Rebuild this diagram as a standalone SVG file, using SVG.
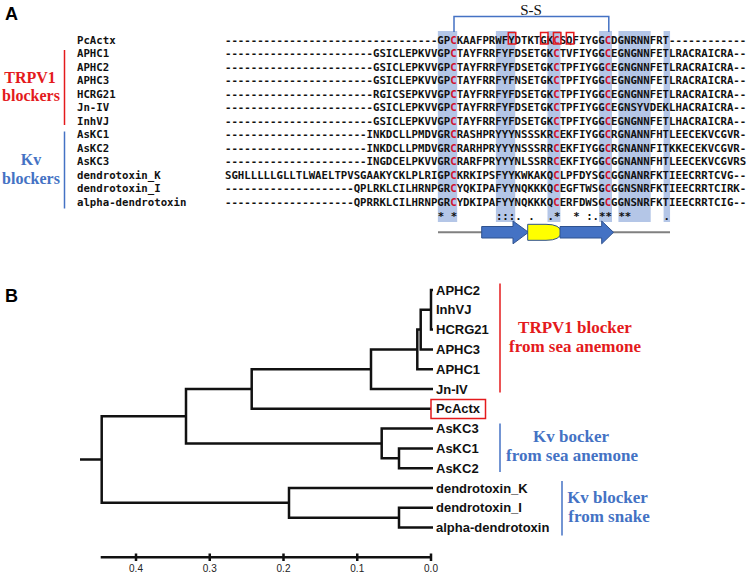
<svg xmlns="http://www.w3.org/2000/svg" width="749" height="573" viewBox="0 0 749 573">
<style>
.seq{font-family:"DejaVu Sans Mono","Liberation Mono",monospace;font-weight:bold;font-size:10.7px;fill:#111}
.rc{fill:#D0102E}
.shade{fill:#B4C6E7}
.panel{font-family:"Liberation Sans",Arial,sans-serif;font-weight:bold;font-size:18px;fill:#000}
.grp{font-family:"Liberation Serif","Times New Roman",serif;font-weight:bold;font-size:16px;text-anchor:middle}
.grp2{font-family:"Liberation Serif","Times New Roman",serif;font-weight:bold;font-size:17px;text-anchor:middle}
.red{fill:#E41A1C}
.blue{fill:#4472C4}
.leaf{font-family:"Liberation Sans",Arial,sans-serif;font-weight:bold;font-size:13px;fill:#111}
.tree{fill:none;stroke:#111;stroke-width:2.5;stroke-linejoin:miter;stroke-linecap:butt}
.tick{font-family:"Liberation Sans",Arial,sans-serif;font-size:10px;fill:#222;text-anchor:middle}
.box{fill:none;stroke:#E41A1C;stroke-width:1.5}
.arrow{fill:#4472C4;stroke:#2F528F;stroke-width:1}
</style>
<rect width="749" height="573" fill="#fff"/>

<!-- Panel A -->
<text class="panel" x="5" y="20">A</text>

<g id="shading">
<rect class="shade" x="437.85" y="31" width="19.35" height="191"/>
<rect class="shade" x="495.9" y="31" width="19.35" height="191"/>
<rect class="shade" x="547.5" y="31" width="12.9" height="191"/>
<rect class="shade" x="599.1" y="31" width="12.9" height="191"/>
<rect class="shade" x="618.45" y="31" width="32.25" height="191"/>
<rect class="shade" x="663.6" y="31" width="6.45" height="191"/>
</g>

<g id="ss-bridge">
<path d="M454,32 V16.5 H608.8 V32" fill="none" stroke="#4472C4" stroke-width="1.5"/>
<text x="531" y="14.5" font-family="'Liberation Serif','Times New Roman',serif" font-size="15" text-anchor="middle" fill="#111">S-S</text>
</g>

<g id="group-labels-A">
<line x1="64.5" y1="50" x2="64.5" y2="125" stroke="#E41A1C" stroke-width="1.5"/>
<text class="grp red" x="30" y="82.5">TRPV1</text>
<text class="grp red" x="31" y="101">blockers</text>
<line x1="64.5" y1="131.5" x2="64.5" y2="208.5" stroke="#4472C4" stroke-width="1.5"/>
<text class="grp blue" x="31" y="164.5">Kv</text>
<text class="grp blue" x="31" y="184">blockers</text>
</g>

<g id="alignment">
<g id="row-PcActx"><text class="seq" x="77" y="43.8">PcActx</text><text class="seq" x="225" y="43.8">---------------------------------GP<tspan class="rc">C</tspan>KAAFPRWFYDTKTGK<tspan class="rc">C</tspan>SQFIYGG<tspan class="rc">C</tspan>DGNRNNFRT------------</text></g>
<g id="row-APHC1"><text class="seq" x="77" y="57.3">APHC1</text><text class="seq" x="225" y="57.3">-----------------------GSICLEPKVVGP<tspan class="rc">C</tspan>TAYFRRFYFDSETGK<tspan class="rc">C</tspan>TVFIYGG<tspan class="rc">C</tspan>EGNGNNFETLRACRAICRA--</text></g>
<g id="row-APHC2"><text class="seq" x="77" y="70.8">APHC2</text><text class="seq" x="225" y="70.8">-----------------------GSICLEPKVVGP<tspan class="rc">C</tspan>TAYFRRFYFDSETGK<tspan class="rc">C</tspan>TPFIYGG<tspan class="rc">C</tspan>EGNGNNFETLRACRAICRA--</text></g>
<g id="row-APHC3"><text class="seq" x="77" y="84.3">APHC3</text><text class="seq" x="225" y="84.3">-----------------------GSICLEPKVVGP<tspan class="rc">C</tspan>TAYFRRFYFNSETGK<tspan class="rc">C</tspan>TPFIYGG<tspan class="rc">C</tspan>EGNGNNFETLRACRAICRA--</text></g>
<g id="row-HCRG21"><text class="seq" x="77" y="97.8">HCRG21</text><text class="seq" x="225" y="97.8">-----------------------RGICSEPKVVGP<tspan class="rc">C</tspan>TAYFRRFYFDSETGK<tspan class="rc">C</tspan>TPFIYGG<tspan class="rc">C</tspan>EGNGNNFETLRACRAICRA--</text></g>
<g id="row-JnIV"><text class="seq" x="77" y="111.3">Jn-IV</text><text class="seq" x="225" y="111.3">-----------------------GSICLEPKVVGP<tspan class="rc">C</tspan>TAYFRRFYFDSETGK<tspan class="rc">C</tspan>TPFIYGG<tspan class="rc">C</tspan>EGNSYVDEKLHACRAICRA--</text></g>
<g id="row-InhVJ"><text class="seq" x="77" y="124.8">InhVJ</text><text class="seq" x="225" y="124.8">-----------------------GSICLEPKVVGP<tspan class="rc">C</tspan>TAYFRRFYFDSETGK<tspan class="rc">C</tspan>TPFIYGG<tspan class="rc">C</tspan>EGNGNNFETLHACRAICRA--</text></g>
<g id="row-AsKC1"><text class="seq" x="77" y="138.3">AsKC1</text><text class="seq" x="225" y="138.3">----------------------INKDCLLPMDVGR<tspan class="rc">C</tspan>RASHPRYYYNSSSKR<tspan class="rc">C</tspan>EKFIYGG<tspan class="rc">C</tspan>RGNANNFHTLEECEKVCGVR-</text></g>
<g id="row-AsKC2"><text class="seq" x="77" y="151.8">AsKC2</text><text class="seq" x="225" y="151.8">----------------------INKDCLLPMDVGR<tspan class="rc">C</tspan>RARHPRYYYNSSSRR<tspan class="rc">C</tspan>EKFIYGG<tspan class="rc">C</tspan>RGNANNFITKKECEKVCGVR-</text></g>
<g id="row-AsKC3"><text class="seq" x="77" y="165.3">AsKC3</text><text class="seq" x="225" y="165.3">----------------------INGDCELPKVVGR<tspan class="rc">C</tspan>RARFPRYYYNLSSRR<tspan class="rc">C</tspan>EKFIYGG<tspan class="rc">C</tspan>GGNANNFHTLEECEKVCGVRS</text></g>
<g id="row-dendrotoxin_K"><text class="seq" x="77" y="178.8">dendrotoxin_K</text><text class="seq" x="225" y="178.8">SGHLLLLLGLLTLWAELTPVSGAAKYCKLPLRIGP<tspan class="rc">C</tspan>KRKIPSFYYKWKAKQ<tspan class="rc">C</tspan>LPFDYSG<tspan class="rc">C</tspan>GGNANRFKTIEECRRTCVG--</text></g>
<g id="row-dendrotoxin_I"><text class="seq" x="77" y="192.3">dendrotoxin_I</text><text class="seq" x="225" y="192.3">--------------------QPLRKLCILHRNPGR<tspan class="rc">C</tspan>YQKIPAFYYNQKKKQ<tspan class="rc">C</tspan>EGFTWSG<tspan class="rc">C</tspan>GGNSNRFKTIEECRRTCIRK-</text></g>
<g id="row-alpha-dendrotoxin"><text class="seq" x="77" y="205.8">alpha-dendrotoxin</text><text class="seq" x="225" y="205.8">--------------------QPRRKLCILHRNPGR<tspan class="rc">C</tspan>YDKIPAFYYNQKKKQ<tspan class="rc">C</tspan>ERFDWSG<tspan class="rc">C</tspan>GGNSNRFKTIEECRRTCIG--</text></g>
<g id="row-consensus"><text class="seq" y="219.5"><tspan x="437.85">*</tspan><tspan x="450.75">*</tspan><tspan x="495.9">:::.</tspan><tspan x="528.15">.</tspan><tspan x="547.5">.*</tspan><tspan x="573.3">*</tspan><tspan x="586.2">:.**</tspan><tspan x="618.45">**</tspan><tspan x="663.6">.</tspan></text></g>
</g>

<g id="key-residues">
<rect class="box" x="508.3" y="32.5" width="7.45" height="11.5"/>
<rect class="box" x="540.55" y="32.5" width="7.45" height="11.5"/>
<rect class="box" x="553.45" y="32.5" width="7.45" height="11.5"/>
<rect class="box" x="566.35" y="32.5" width="7.45" height="11.5"/>
</g>

<g id="secondary-structure">
<line x1="438" y1="232.3" x2="670" y2="232.3" stroke="#808080" stroke-width="2"/>
<polygon class="arrow" points="481.7,226.5 513,226.5 513,221 528.5,232.3 513,243.8 513,238 481.7,238"/>
<path d="M527.7,224.3 H546 Q560.5,224.3 561.2,232.3 Q560.5,240.3 546,240.3 H527.7 Z" fill="#FFFF00" stroke="#2F528F" stroke-width="1"/>
<polygon class="arrow" points="560,226.5 601.7,226.5 601.7,221 613.5,232.3 601.7,243.8 601.7,238 560,238"/>
</g>

<!-- Panel B -->
<text class="panel" x="5" y="302">B</text>

<g id="connectors" class="tree">
<path d="M433,290 H431 V329.6 H433"/>
<path d="M431,309.8 H420.7 V349.4 H433"/>
<path d="M420.7,329.6 H417.3 V369.2 H433"/>
<path d="M417.3,349.4 H371 V389 H433"/>
<path d="M371,369.2 H251.7 V408.8 H431"/>
<path d="M433,448.4 H399 V468.2 H433"/>
<path d="M433,428.6 H381.7 V458.3 H399"/>
<path d="M251.7,389 H186 V443.45 H381.7"/>
<path d="M433,507.8 H399 V527.6 H433"/>
<path d="M433,488 H289 V517.7 H399"/>
<path d="M186,416.2 H101.7 V502.85 H289"/>
<path d="M80,459.5 H101.7"/>
</g>

<g id="leaves">
<g id="leaf-APHC2"><text class="leaf" x="436" y="294.6">APHC2</text></g>
<g id="leaf-InhVJ"><text class="leaf" x="436" y="314.4">InhVJ</text></g>
<g id="leaf-HCRG21"><text class="leaf" x="436" y="334.2">HCRG21</text></g>
<g id="leaf-APHC3"><text class="leaf" x="436" y="354">APHC3</text></g>
<g id="leaf-APHC1"><text class="leaf" x="436" y="373.8">APHC1</text></g>
<g id="leaf-JnIV"><text class="leaf" x="436" y="393.6">Jn-IV</text></g>
<g id="leaf-PcActx"><rect class="box" x="431" y="399.5" width="54.5" height="19"/><text class="leaf" x="436" y="413.4">PcActx</text></g>
<g id="leaf-AsKC3"><text class="leaf" x="436" y="433.2">AsKC3</text></g>
<g id="leaf-AsKC1"><text class="leaf" x="436" y="453">AsKC1</text></g>
<g id="leaf-AsKC2"><text class="leaf" x="436" y="472.8">AsKC2</text></g>
<g id="leaf-dendrotoxin_K"><text class="leaf" x="436" y="492.6">dendrotoxin_K</text></g>
<g id="leaf-dendrotoxin_I"><text class="leaf" x="436" y="512.4">dendrotoxin_I</text></g>
<g id="leaf-alpha-dendrotoxin"><text class="leaf" x="436" y="532.2">alpha-dendrotoxin</text></g>
</g>

<g id="group-labels-B">
<line x1="500" y1="283.5" x2="500" y2="392.5" stroke="#E41A1C" stroke-width="1.5"/>
<text class="grp2 red" x="575" y="332.7">TRPV1 blocker</text>
<text class="grp2 red" x="575" y="351.7">from sea anemone</text>
<line x1="500" y1="423.5" x2="500" y2="472" stroke="#4472C4" stroke-width="1.5"/>
<text class="grp2 blue" x="571" y="441.7">Kv bocker</text>
<text class="grp2 blue" x="572" y="461">from sea anemone</text>
<line x1="562" y1="481" x2="562" y2="535.5" stroke="#4472C4" stroke-width="1.5"/>
<text class="grp2 blue" x="607.5" y="503.3">Kv blocker</text>
<text class="grp2 blue" x="609" y="522.3">from snake</text>
</g>

<g id="scale-axis">
<path class="tree" d="M100.7,557.3 H431 M136,553.5 V561 M209.75,553.5 V561 M283.5,553.5 V561 M357.25,553.5 V561 M431,553.5 V561"/>
<text class="tick" x="136" y="572">0.4</text>
<text class="tick" x="209.75" y="572">0.3</text>
<text class="tick" x="283.5" y="572">0.2</text>
<text class="tick" x="357.25" y="572">0.1</text>
<text class="tick" x="431" y="572">0.0</text>
</g>
</svg>
